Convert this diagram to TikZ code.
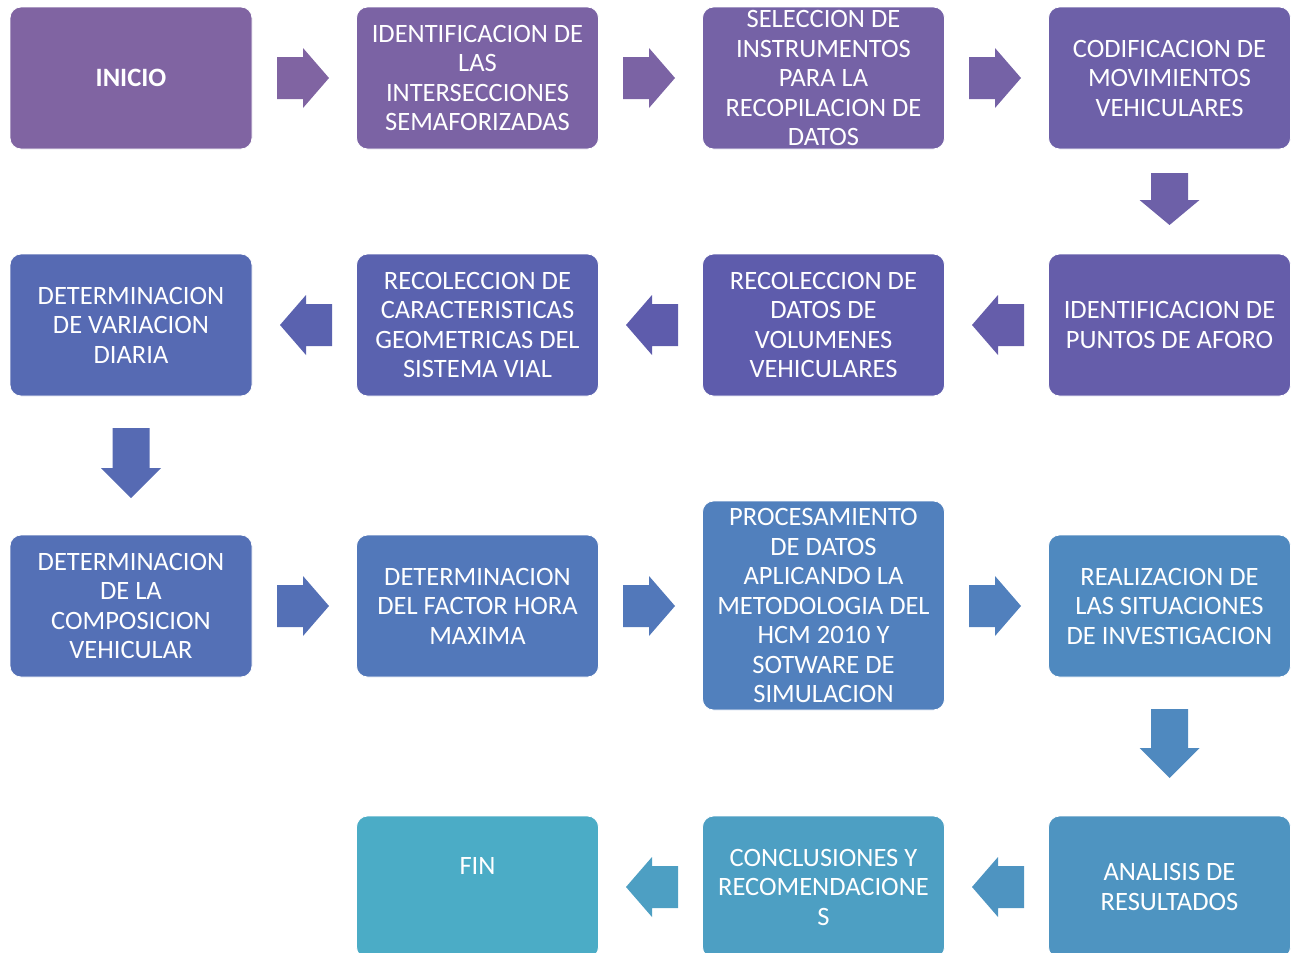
\documentclass[tikz,border=0pt]{standalone}
\usepackage{fontspec}
\setmainfont{Carlito}
\definecolor{c0}{HTML}{8064A2}
\definecolor{c1}{HTML}{7B63A4}
\definecolor{c2}{HTML}{7562A6}
\definecolor{c3}{HTML}{6D60A8}
\definecolor{c4}{HTML}{655DAA}
\definecolor{c5}{HTML}{5E5CAC}
\definecolor{c6}{HTML}{5A62AF}
\definecolor{c7}{HTML}{566AB3}
\definecolor{c8}{HTML}{5470B6}
\definecolor{c9}{HTML}{5278BA}
\definecolor{c10}{HTML}{5180BD}
\definecolor{c11}{HTML}{4F89BF}
\definecolor{c12}{HTML}{4E94C1}
\definecolor{c13}{HTML}{4D9FC3}
\definecolor{c14}{HTML}{4BACC6}
\begin{document}
\begin{tikzpicture}[x=1pt,y=-1pt,
  box/.style={draw=white, line width=0.8pt, rounded corners=11pt, minimum width=242pt, minimum height=142pt,
    inner sep=0pt, text=white, align=center, font=\fontsize{26.5}{29.5}\selectfont},
  lbl/.style={text=white, align=center, inner sep=0pt, font=\fontsize{26.5}{29.5}\selectfont}]
\useasboundingbox (0,0) rectangle (1296,953);
% row 1
\node[box, fill=c0] (b0) at (131,78) {\bfseries INICIO};
\node[box, fill=c1] (b1) at (477.5,78) {IDENTIFICACION DE\\LAS\\INTERSECCIONES\\SEMAFORIZADAS};
\node[box, fill=c2] (b2) at (823.5,78) {SELECCION DE\\INSTRUMENTOS\\PARA LA\\RECOPILACION DE\\DATOS};
\node[box, fill=c3] (b3) at (1169.5,78) {CODIFICACION DE\\MOVIMIENTOS\\VEHICULARES};
% row 2
\node[box, fill=c4] (b4) at (1169.5,325) {IDENTIFICACION DE\\PUNTOS DE AFORO};
\node[box, fill=c5] (b5) at (823.5,325) {RECOLECCION DE\\DATOS DE\\VOLUMENES\\VEHICULARES};
\node[box, fill=c6] (b6) at (477.5,325) {RECOLECCION DE\\CARACTERISTICAS\\GEOMETRICAS DEL\\SISTEMA VIAL};
\node[box, fill=c7] (b7) at (131,325) {DETERMINACION\\DE VARIACION\\DIARIA};
% row 3
\node[box, fill=c8] (b8) at (131,606) {DETERMINACION\\DE LA\\COMPOSICION\\VEHICULAR};
\node[box, fill=c9] (b9) at (477.5,606) {DETERMINACION\\DEL FACTOR HORA\\MAXIMA};
\node[box, fill=c10, minimum height=209pt] (b10) at (823.5,605.5) {PROCESAMIENTO\\DE DATOS\\APLICANDO LA\\METODOLOGIA DEL\\HCM 2010 Y\\SOTWARE DE\\SIMULACION};
\node[box, fill=c11] (b11) at (1169.5,606) {REALIZACION DE\\LAS SITUACIONES\\DE INVESTIGACION};
% row 4
\node[box, fill=c12] (b12) at (1169.5,887) {ANALISIS DE\\RESULTADOS};
\node[box, fill=c13] (b13) at (823.5,887) {CONCLUSIONES Y\\RECOMENDACIONE\\S};
\node[box, fill=c14] (b14) at (477.5,887) {};
\node[lbl] (t14) at ([yshift=21pt]b14.center) {FIN};
% right arrows
\foreach \x/\y/\c in {277/78/c0, 623/78/c1, 969/78/c2, 277/606/c8, 623/606/c9, 969/606/c10}
  \fill[\c] (\x,\y-21) -- ++(26,0) -- ++(0,-9) -- (\x+52,\y) -- (\x+26,\y+30) -- ++(0,-9) -- (\x,\y+21) -- cycle;
% left arrows
\foreach \x/\y/\c in {1024/325/c4, 678/325/c5, 332/325/c6, 1024/887/c12, 678/887/c13}
  \fill[\c] (\x,\y-21) -- ++(-26,0) -- ++(0,-9) -- (\x-52,\y) -- (\x-26,\y+30) -- ++(0,-9) -- (\x,\y+21) -- cycle;
% down arrows
\foreach \x/\ya/\yb/\yc/\c in {1169.5/173/200/225/c3, 131/428/468/498/c7, 1169.5/709/748/778/c11}
  \fill[\c] (\x-18.5,\ya) -- (\x+18.5,\ya) -- (\x+18.5,\yb) -- (\x+30,\yb) -- (\x,\yc) -- (\x-30,\yb) -- (\x-18.5,\yb) -- cycle;
\end{tikzpicture}
\end{document}
